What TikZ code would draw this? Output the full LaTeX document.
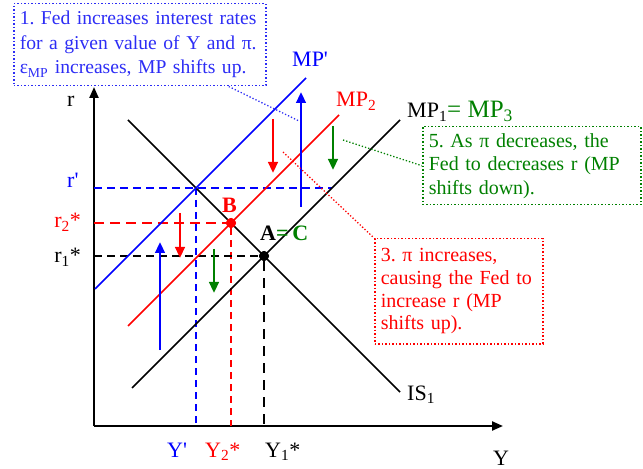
\documentclass[tikz,border=0pt]{standalone}
\usepackage{fontspec}
\setmainfont{Liberation Serif}
\usetikzlibrary{arrows.meta}

\definecolor{mpblue}{RGB}{0,0,255}
\definecolor{mpred}{RGB}{255,0,0}
\definecolor{mpgreen}{RGB}{0,128,0}
\definecolor{noteblue}{RGB}{45,45,245}

\newcommand{\lblsize}{\fontsize{22bp}{26bp}\selectfont}
\newcommand{\notesize}{\fontsize{20bp}{24bp}\selectfont}
\frenchspacing

\begin{document}
\begin{tikzpicture}[
  x=1bp, y=-1bp,
  curve/.style={line width=1.5bp},
  axisline/.style={line width=2.2bp, -{Triangle[width=9bp,length=11bp]}},
  guide/.style={line width=2bp, dash pattern=on 8bp off 5bp},
  shiftarr/.style={line width=2.6bp, -{Triangle[width=9.5bp,length=11bp]}},
  lbl/.style={font=\lblsize, inner sep=0pt},
  note/.style={draw, line width=1.5bp, dash pattern=on 1.5bp off 2bp, align=left, anchor=north west, inner xsep=6bp, inner ysep=0pt, font=\notesize},
  leader/.style={line width=1.3bp, dash pattern=on 1.3bp off 2bp},
  dot/.style={circle, inner sep=0pt, minimum size=10bp}
]
  \useasboundingbox (0,0) rectangle (643,469);

  % axes
  \coordinate (O) at (94,426);
  \coordinate (rtop) at (94,87);
  \coordinate (yend) at (503,426);
  \draw[axisline] (O) -- (rtop);
  \draw[axisline] (O) -- (yend);

  % curve end points
  \coordinate (is-a) at (128,120);   \coordinate (is-b) at (400,392);
  \coordinate (mp1-a) at (132,388);  \coordinate (mp1-b) at (400,120);
  \coordinate (mpp-a) at (95,289);   \coordinate (mpp-b) at (306,78);
  \coordinate (mp2-a) at (128,326);  \coordinate (mp2-b) at (339,115);

  % equilibrium points
  \node[dot, fill=black] (A) at (264,256) {};
  \node[dot, fill=mpred] (B) at (231,223) {};
  \coordinate (P) at (196,188);

  % guide lines to the axes
  \coordinate (rp-ax) at (94,188);   \coordinate (rp-end) at (332,188);
  \coordinate (r2-ax) at (94,223);   \coordinate (r1-ax) at (94,256);
  \coordinate (yp-ax) at (196,426);  \coordinate (y2-ax) at (231,426);
  \coordinate (y1-ax) at (264,426);
  \draw[guide, mpblue] (rp-ax) -- (rp-end);
  \draw[guide, mpblue, line width=1.8bp, dash pattern=on 7bp off 5bp] (P) -- (yp-ax);
  \draw[guide, mpred, line width=2.4bp, dash pattern=on 10bp off 6bp] (r2-ax) -- (B);
  \draw[guide, mpred, line width=1.8bp, dash pattern=on 7bp off 5bp] (B) -- (y2-ax);
  \draw[guide, black] (r1-ax) -- (A);
  \draw[guide, black, line width=2.6bp, dash pattern=on 10bp off 7bp] (A) -- (y1-ax);

  % IS and MP curves
  \draw[curve] (is-a) -- (is-b);
  \draw[curve] (mp1-a) -- (mp1-b);
  \draw[curve, mpblue] (mpp-a) -- (mpp-b);
  \draw[curve, mpred] (mp2-a) -- (mp2-b);
  \node[dot, fill=black] at (A) {};
  \node[dot, fill=mpred] at (B) {};

  % shift arrows
  \coordinate (bl-s) at (160,350);  \coordinate (bl-e) at (160,242);
  \coordinate (br-s) at (301,207);  \coordinate (br-e) at (301,92);
  \coordinate (rl-s) at (180,213);  \coordinate (rl-e) at (180,258);
  \coordinate (rr-s) at (273,119);  \coordinate (rr-e) at (273,173);
  \coordinate (gl-s) at (214,249);  \coordinate (gl-e) at (214,293);
  \coordinate (gr-s) at (333,126);  \coordinate (gr-e) at (333,170);
  \draw[shiftarr, mpblue] (bl-s) -- (bl-e);
  \draw[shiftarr, mpblue] (br-s) -- (br-e);
  \draw[shiftarr, mpred] (rl-s) -- (rl-e);
  \draw[shiftarr, mpred] (rr-s) -- (rr-e);
  \draw[shiftarr, mpgreen] (gl-s) -- (gl-e);
  \draw[shiftarr, mpgreen] (gr-s) -- (gr-e);

  % axis and curve labels
  \node[lbl, anchor=base west] (r-lbl) at (67,107) {r};
  \node[lbl, anchor=base west, text=mpblue] (rp-lbl) at (67,188) {r\textquotesingle};
  \node[lbl, anchor=base east, text=mpred] (r2-lbl) at (81,228) {r\textsubscript{2}*};
  \node[lbl, anchor=base east] (r1-lbl) at (81,263) {r\textsubscript{1}*};
  \node[lbl, anchor=base west, text=mpblue] (yp-lbl) at (167,457) {Y\textquotesingle};
  \node[lbl, anchor=base west, text=mpred] (y2-lbl) at (205,457) {Y\textsubscript{2}*};
  \node[lbl, anchor=base west] (y1-lbl) at (265,457) {Y\textsubscript{1}*};
  \node[lbl, anchor=base west] (y-lbl) at (493,465) {Y};
  \node[lbl, anchor=base west, text=mpblue] (mpp-lbl) at (292,67) {MP\textquotesingle};
  \node[lbl, anchor=base west, text=mpred] (mp2-lbl) at (336,107) {MP\textsubscript{2}};
  \node[lbl, anchor=base west] (mp1-lbl) at (407,118) {MP\textsubscript{1}{\color{mpgreen}\fontsize{25bp}{28bp}\selectfont= MP\textsubscript{3}}};
  \node[lbl, anchor=base west] (is-lbl) at (407,400) {IS\textsubscript{1}};
  \node[lbl, anchor=base west, text=mpred, font=\lblsize\bfseries] (b-lbl) at (222,213) {B};
  \node[lbl, anchor=base west, font=\lblsize\bfseries] (ac-lbl) at (260,241) {A{\color{mpgreen}=\,C}};

  % notes
  \node[note, noteblue, text width=240bp, minimum height=82bp, font=\fontsize{19.6bp}{24.5bp}\selectfont] (note1) at (13,3)
    {1. Fed increases interest rates\\for a given value of Y and π.\\ε\textsubscript{MP} increases, MP shifts up.};
  \node[note, mpgreen, text width=206bp, minimum height=78bp, font=\fontsize{20bp}{23.5bp}\selectfont] (note5) at (422,126)
    {5. As π decreases, the\\Fed to decreases r (MP\\shifts down).};
  \node[note, mpred, text width=156bp, minimum height=105bp, font=\fontsize{20bp}{22.7bp}\selectfont] (note3) at (374,238)
    {3. π increases,\\causing the Fed to\\increase r (MP\\shifts up).};

  % leaders from notes
  \coordinate (n1-pt) at (299,121);
  \coordinate (n5-pt) at (343,140);
  \coordinate (n3-pt) at (283,152);
  \draw[leader, noteblue] ([xshift=89bp]note1.south) -- (n1-pt);
  \draw[leader, mpgreen] (n5-pt) -- (note5.west);
  \draw[leader, mpred] (n3-pt) -- (note3.north west);
\end{tikzpicture}
\end{document}
